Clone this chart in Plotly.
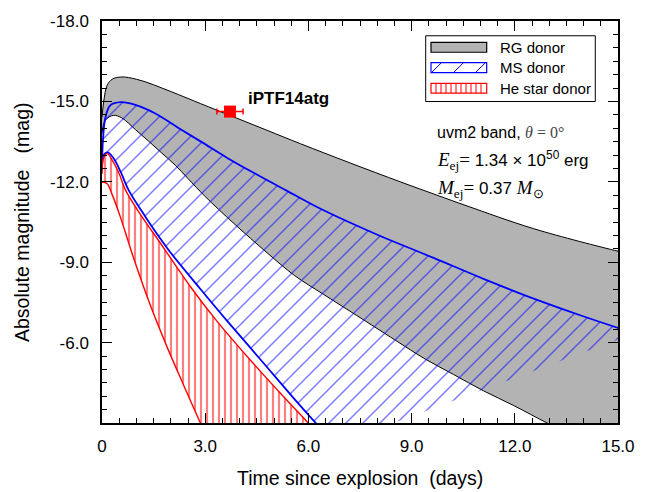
import plotly.graph_objects as go

# ---------------- data ----------------
rg_upper_t = [0.0, 0.05, 0.15, 0.3, 0.53, 0.77, 1.26, 1.74, 2.23, 2.86, 3.83, 4.8, 5.77, 7.22, 8.67, 9.74, 10.61, 12.55, 15.0, 15.5]
rg_upper_m = [-14.4, -15.0, -15.6, -15.83, -15.91, -15.89, -15.73, -15.50, -15.25, -14.92, -14.42, -13.92, -13.42, -12.70, -12.0, -11.5, -11.1, -10.25, -9.41, -9.27]

rg_lower_t = [0.0, 0.1, 0.34, 0.58, 0.97, 1.35, 1.74, 2.13, 2.5, 3.0, 3.83, 4.8, 5.6, 6.44, 7.7, 8.6, 9.35, 10.22, 11.09, 11.97, 12.94, 13.6, 15.5]
rg_lower_m = [-13.8, -14.3, -14.48, -14.38, -13.95, -13.52, -13.07, -12.62, -12.12, -11.45, -10.45, -9.35, -8.5, -7.8, -6.77, -6.03, -5.42, -4.81, -4.20, -3.65, -3.0, -2.6, -1.6]

ms_upper_t = [0.0, 0.03, 0.1, 0.24, 0.55, 0.97, 1.55, 2.2, 2.9, 3.63, 4.5, 5.38, 6.25, 7.22, 8.14, 9.64, 11.09, 12.55, 13.9, 15.0, 15.5]
ms_upper_m = [-12.6, -13.6, -14.4, -14.85, -14.97, -14.87, -14.55, -14.03, -13.48, -12.9, -12.27, -11.66, -11.06, -10.47, -9.95, -9.16, -8.38, -7.64, -7.02, -6.55, -6.35]

ms_lower_t = [0.0, 0.05, 0.17, 0.35, 0.55, 0.77, 1.26, 1.74, 1.98, 2.86, 3.63, 4.6, 5.57, 6.25, 6.8]
ms_lower_m = [-12.4, -13.0, -13.1, -12.85, -12.35, -11.7, -10.70, -9.80, -9.38, -8.0, -6.82, -5.38, -3.93, -2.95, -2.2]

he_upper_t = [0.0, 0.05, 0.15, 0.3, 0.5, 0.68, 1.16, 1.65, 1.89, 2.62, 3.34, 4.31, 5.28, 5.96, 6.5]
he_upper_m = [-12.3, -12.9, -13.05, -12.8, -12.3, -11.7, -10.70, -9.80, -9.35, -8.0, -6.8, -5.35, -3.98, -3.05, -2.3]

he_lower_t = [0.0, 0.15, 0.29, 0.53, 0.77, 0.97, 1.4, 1.89, 2.37, 2.86, 3.2]
he_lower_m = [-11.99, -11.93, -11.54, -10.70, -9.74, -8.96, -7.41, -5.84, -4.42, -3.0, -2.05]

obs_t = [3.72]
obs_m = [-14.62]
obs_terr = [0.38]
obs_name = "iPTF14atg"

x_tickvals = [0, 3, 6, 9, 12, 15]
x_ticktext = ["0", "3.0", "6.0", "9.0", "12.0", "15.0"]
y_tickvals = [-18, -15, -12, -9, -6, -3]
y_ticktext = ["-18.0", "-15.0", "-12.0", "-9.0", "-6.0", ""]

legend_labels = ["RG donor", "MS donor", "He star donor"]

# ---------------- figure ----------------
W, H = 647, 492
ML, MR, MT, MB = 102, 29, 15, 69
PW, PH = W - ML - MR, H - MT - MB

def px(x):
    return (x - ML) / PW

def py(y):
    return (H - MB - y) / PH

fig = go.Figure()

# RG donor band
fig.add_trace(go.Scatter(x=rg_lower_t, y=rg_lower_m, mode="lines",
                         line=dict(color="black", width=1, shape="spline"),
                         showlegend=False, hoverinfo="skip"))
fig.add_trace(go.Scatter(x=rg_upper_t, y=rg_upper_m, mode="lines",
                         line=dict(color="black", width=1, shape="spline"),
                         fill="tonexty", fillcolor="#b3b3b3",
                         showlegend=False, hoverinfo="skip"))
# MS donor band ('/' hatch: horizontal spacing = size*sqrt(2))
fig.add_trace(go.Scatter(x=ms_lower_t, y=ms_lower_m, mode="lines",
                         line=dict(color="#0000ff", width=1.8, shape="spline"),
                         showlegend=False, hoverinfo="skip"))
fig.add_trace(go.Scatter(x=ms_upper_t, y=ms_upper_m, mode="lines",
                         line=dict(color="#0000ff", width=1.8, shape="spline"),
                         fill="tonexty", fillcolor="rgba(0,0,0,0)",
                         fillpattern=dict(shape="/", fgcolor="#0000ff", bgcolor="rgba(0,0,0,0)",
                                          size=12.0208, solidity=0.13),
                         showlegend=False, hoverinfo="skip"))
# He star donor band
fig.add_trace(go.Scatter(x=he_lower_t, y=he_lower_m, mode="lines",
                         line=dict(color="#ff0000", width=1.4, shape="spline"),
                         showlegend=False, hoverinfo="skip"))
fig.add_trace(go.Scatter(x=he_upper_t, y=he_upper_m, mode="lines",
                         line=dict(color="#ff0000", width=1.4, shape="spline"),
                         fill="tonexty", fillcolor="rgba(0,0,0,0)",
                         fillpattern=dict(shape="|", fgcolor="#ff0000", bgcolor="rgba(0,0,0,0)",
                                          size=6, solidity=0.36),
                         showlegend=False, hoverinfo="skip"))
# observation
fig.add_trace(go.Scatter(x=obs_t, y=obs_m, mode="markers",
                         marker=dict(symbol="square", size=12, color="#ff0000"),
                         error_x=dict(type="data", array=obs_terr, color="#ff0000",
                                      thickness=1.5, width=3),
                         showlegend=False, hoverinfo="skip"))

sans = "Liberation Sans, Arial, sans-serif"
serif = "Liberation Serif, Times New Roman, serif"

axis_common = dict(showline=True, linecolor="black", linewidth=1.5, mirror="ticks",
                   ticks="inside", ticklen=10, tickwidth=1, tickcolor="black",
                   showgrid=False, zeroline=False,
                   tickfont=dict(family=sans, size=17, color="black"))

fig.update_layout(
    width=W, height=H,
    margin=dict(l=ML, r=MR, t=MT, b=MB),
    paper_bgcolor="white", plot_bgcolor="white",
    xaxis=dict(range=[0, 15], tickvals=x_tickvals, ticktext=x_ticktext,
               minor=dict(dtick=0.5, ticklen=5, ticks="inside", tickcolor="black", tickwidth=1),
               ticklabelstandoff=7,
               **axis_common),
    yaxis=dict(range=[-3, -18], tickvals=y_tickvals, ticktext=y_ticktext,
               minor=dict(dtick=0.5, ticklen=5, ticks="inside", tickcolor="black", tickwidth=1),
               ticklabelstandoff=8,
               **axis_common),
)

# axis titles
fig.add_annotation(xref="paper", yref="paper", x=px(359.7), y=py(479),
                   text="Time since explosion\u00a0\u00a0(days)", showarrow=False,
                   xanchor="center", yanchor="middle",
                   font=dict(family=sans, size=19.5, color="black"))
fig.add_annotation(xref="paper", yref="paper", x=px(22), y=py(219),
                   text="Absolute magnitude\u00a0\u00a0\u00a0(mag)", showarrow=False,
                   textangle=-90, xanchor="center", yanchor="middle",
                   font=dict(family=sans, size=19.5, color="black"))

# label of observation
fig.add_annotation(x=obs_t[0] + 0.47, y=obs_m[0] - 0.5, text="<b>" + obs_name + "</b>",
                   showarrow=False, xanchor="left", yanchor="middle",
                   font=dict(family=sans, size=17, color="black"))

# legend box (manual)
shapes = []
shapes.append(dict(type="rect", xref="paper", yref="paper",
                   x0=px(425.7), x1=px(595.3), y0=py(96.7), y1=py(30),
                   line=dict(color="black", width=1), fillcolor="white", layer="above"))
sx0, sx1 = 431, 486.7
rows = [(36.7, 46.7), (57.3, 67.3), (78.3, 88.3)]
# RG swatch
shapes.append(dict(type="rect", xref="paper", yref="paper",
                   x0=px(sx0), x1=px(sx1), y0=py(rows[0][1]), y1=py(rows[0][0]),
                   line=dict(color="black", width=1.2), fillcolor="#b3b3b3", layer="above"))
# MS swatch
shapes.append(dict(type="rect", xref="paper", yref="paper",
                   x0=px(sx0), x1=px(sx1), y0=py(rows[1][1]), y1=py(rows[1][0]),
                   line=dict(color="#0000ff", width=1.2), fillcolor="white", layer="above"))
for xs in [431.5, 453.5, 475.5]:
    x_end = min(xs + 10, sx1)
    shapes.append(dict(type="line", xref="paper", yref="paper",
                       x0=px(xs), x1=px(x_end), y0=py(rows[1][1]), y1=py(rows[1][1] - (x_end - xs)),
                       line=dict(color="#0000ff", width=1), layer="above"))
# He swatch
shapes.append(dict(type="rect", xref="paper", yref="paper",
                   x0=px(sx0), x1=px(sx1), y0=py(rows[2][1]), y1=py(rows[2][0]),
                   line=dict(color="#ff0000", width=1.2), fillcolor="white", layer="above"))
xv = sx0 + 5
while xv < sx1 - 1:
    shapes.append(dict(type="line", xref="paper", yref="paper",
                       x0=px(xv), x1=px(xv), y0=py(rows[2][1]), y1=py(rows[2][0]),
                       line=dict(color="#ff0000", width=1), layer="above"))
    xv += 5
fig.update_layout(shapes=shapes)

for lab, (r0, r1) in zip(legend_labels, rows):
    fig.add_annotation(xref="paper", yref="paper", x=px(498), y=py((r0 + r1) / 2),
                       text=lab, showarrow=False, xanchor="left", yanchor="middle",
                       font=dict(family=sans, size=15, color="black"))

# info text
mth = "font-family:%s;font-size:19px" % serif
info = [
    (128, 16, "uvm2 band, <span style='font-family:%s;color:#444'><i>θ</i> = 0°</span>" % serif),
    (157, 17, "<span style='%s'><i>E</i><sub>ej</sub>=</span> 1.34 × 10<sup>50</sup> erg" % mth),
    (186, 17, "<span style='%s'><i>M</i><sub>ej</sub>=</span> 0.37 <span style='%s'><i>M</i><sub>⊙</sub></span>" % (mth, mth)),
]
for yy, fs, txt in info:
    fig.add_annotation(xref="paper", yref="paper", x=px(435), y=py(yy), text=txt,
                       showarrow=False, xanchor="left", yanchor="middle",
                       font=dict(family=sans, size=fs, color="black"))

fig.write_html("out.html")
